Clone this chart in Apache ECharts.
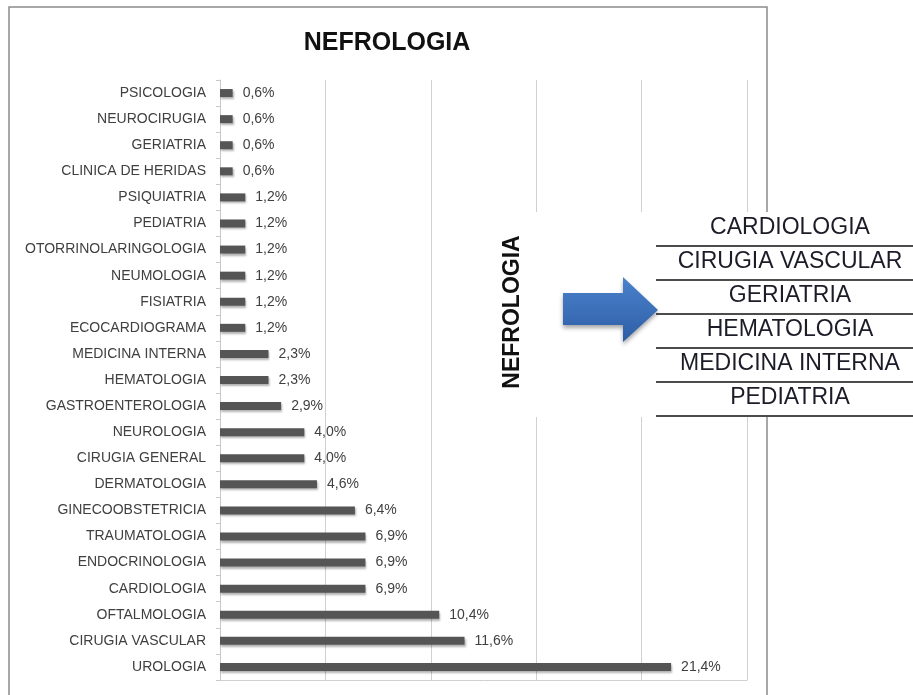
<!DOCTYPE html>
<html>
<head>
<meta charset="utf-8">
<title>NEFROLOGIA</title>
<script src="https://cdn.jsdelivr.net/npm/echarts@6/dist/echarts.min.js"></script>
<style>
  html, body { margin: 0; padding: 0; background: #fff; }
  #chart { width: 913px; height: 695px; }
</style>
</head>
<body>
<div id="chart"></div>
<script>
// categorias, de arriba hacia abajo
const categories = [
  "PSICOLOGIA", "NEUROCIRUGIA", "GERIATRIA", "CLINICA DE HERIDAS",
  "PSIQUIATRIA", "PEDIATRIA", "OTORRINOLARINGOLOGIA", "NEUMOLOGIA",
  "FISIATRIA", "ECOCARDIOGRAMA", "MEDICINA INTERNA", "HEMATOLOGIA",
  "GASTROENTEROLOGIA", "NEUROLOGIA", "CIRUGIA GENERAL", "DERMATOLOGIA",
  "GINECOOBSTETRICIA", "TRAUMATOLOGIA", "ENDOCRINOLOGIA", "CARDIOLOGIA",
  "OFTALMOLOGIA", "CIRUGIA VASCULAR", "UROLOGIA"
];
// porcentajes
const values = [
  0.6, 0.6, 0.6, 0.6,
  1.2, 1.2, 1.2, 1.2,
  1.2, 1.2, 2.3, 2.3,
  2.9, 4.0, 4.0, 4.6,
  6.4, 6.9, 6.9, 6.9,
  10.4, 11.6, 21.4
];
// tabla de la derecha
const tableItems = [
  "CARDIOLOGIA", "CIRUGIA VASCULAR", "GERIATRIA",
  "HEMATOLOGIA", "MEDICINA INTERNA", "PEDIATRIA"
];

const chart = echarts.init(document.getElementById("chart"));

// tabla: texto + linea inferior por fila
const rowTop = 212;
const rowH = 34;
const tableGraphics = [];
tableItems.forEach((name, i) => {
  tableGraphics.push({
    type: "text",
    z: 20,
    style: {
      x: 790, y: rowTop + i * rowH + 16,
      text: name,
      fill: "#1c1c28",
      font: "23px 'Liberation Sans', Arial, sans-serif",
      align: "center", verticalAlign: "middle"
    }
  });
  tableGraphics.push({
    type: "line",
    z: 20,
    shape: { x1: 656, y1: rowTop + (i + 1) * rowH, x2: 913, y2: rowTop + (i + 1) * rowH },
    style: { stroke: "#111", lineWidth: 1.5 }
  });
});

const option = {
  animation: false,
  backgroundColor: "#fff",
  title: {
    text: "NEFROLOGIA",
    left: 382, top: 26, textAlign: "center",
    textStyle: {
      fontFamily: "'Liberation Sans', Arial, sans-serif",
      fontSize: 25, fontWeight: "bold", color: "#111"
    }
  },
  grid: { left: 220, right: 166, top: 80, bottom: 15 },
  xAxis: {
    type: "value",
    min: 0, max: 25, interval: 5,
    axisLabel: { show: false },
    axisTick: { show: false },
    axisLine: { show: true, lineStyle: { color: "#d0d0d0" } },
    splitLine: { show: true, lineStyle: { color: "#d0d0d0", width: 1 } }
  },
  yAxis: {
    type: "category",
    inverse: true,
    data: categories,
    axisLine: { show: true, lineStyle: { color: "#c8c8c8" } },
    axisTick: { show: true, length: 4, lineStyle: { color: "#c8c8c8" } },
    axisLabel: {
      margin: 14,
      color: "#404040",
      fontFamily: "'Liberation Sans', Arial, sans-serif",
      fontSize: 14
    }
  },
  series: [{
    type: "bar",
    data: values,
    barWidth: 8,
    itemStyle: {
      color: "#555555",
      shadowColor: "rgba(0,0,0,0.3)",
      shadowBlur: 2,
      shadowOffsetX: 1,
      shadowOffsetY: 2
    },
    label: {
      show: true,
      position: "right",
      distance: 10,
      color: "#404040",
      fontFamily: "'Liberation Sans', Arial, sans-serif",
      fontSize: 14,
      formatter: (p) => p.value.toFixed(1).replace(".", ",") + "%"
    }
  }],
  graphic: [
    // marco del grafico
    {
      type: "rect", z: 5, silent: true,
      shape: { x: 9, y: 7, width: 758, height: 700 },
      style: { fill: "none", stroke: "#8c8c8c", lineWidth: 1.5 }
    },
    // recuadro blanco que tapa la grilla
    {
      type: "rect", z: 10, silent: true,
      shape: { x: 490, y: 212, width: 423, height: 205 },
      style: { fill: "#fff" }
    },
    // texto vertical
    {
      type: "text", z: 20,
      x: 513, y: 312, rotation: Math.PI / 2,
      style: {
        text: "NEFROLOGIA",
        fill: "#111",
        font: "bold 23px 'Liberation Sans', Arial, sans-serif",
        align: "center", verticalAlign: "middle"
      }
    },
    // flecha
    {
      type: "polygon", z: 20,
      shape: {
        points: [[563, 293], [623, 293], [623, 277], [658, 310], [623, 342], [623, 325], [563, 325]]
      },
      style: {
        fill: new echarts.graphic.LinearGradient(0, 0, 0, 1, [
          { offset: 0, color: "#4b82cc" },
          { offset: 1, color: "#2d5ea6" }
        ]),
        shadowColor: "rgba(0,0,0,0.35)",
        shadowBlur: 4,
        shadowOffsetY: 3
      }
    },
    ...tableGraphics
  ]
};

chart.setOption(option);
</script>
</body>
</html>
